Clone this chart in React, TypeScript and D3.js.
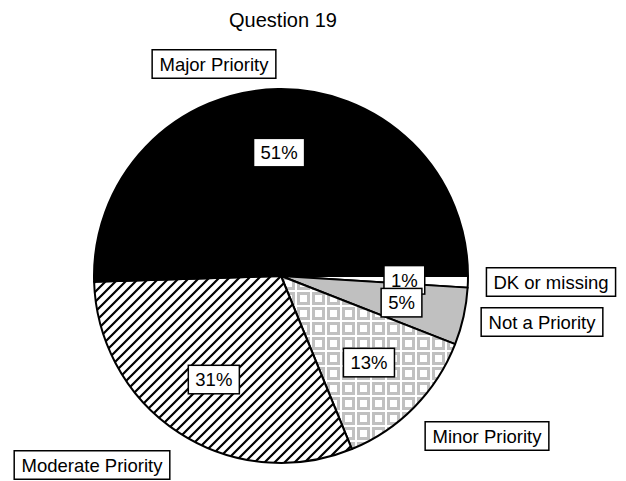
import React from "react";
import * as d3 from "d3";

// Survey responses for Question 19, in drawing order (clockwise from 3 o'clock)
const categories = ["DK or missing", "Not a Priority", "Minor Priority", "Moderate Priority", "Major Priority"];
const percents = [1, 5, 13, 31, 51];
const fills = ["#ffffff", "#c0c0c0", "url(#gridFill)", "url(#hatchFill)", "#000000"];

// Centre of each category caption box, in page pixels
const captionCenters: [number, number][] = [
  [551, 282],
  [542, 322],
  [487, 436],
  [92, 465],
  [214, 64],
];

const W = 626;
const H = 481;
const CX = 281;
const CY = 276;
const R = 187;
const FONT = "'Liberation Sans', Arial, Helvetica, sans-serif";
const FS = 18.5;
const PAD = 7;

function LabelBox({ x, y, text, fs = FS }: { x: number; y: number; text: string; fs?: number }) {
  const ref = React.useRef<SVGTextElement>(null);
  const [w, setW] = React.useState(text.length * fs * 0.56 + 2 * PAD);
  React.useLayoutEffect(() => {
    if (ref.current) setW(ref.current.getBBox().width + 2 * PAD);
  }, [text, fs]);
  const h = fs + 10;
  return (
    <g transform={`translate(${x},${y})`}>
      <rect x={-w / 2} y={-h / 2} width={w} height={h} fill="#fff" stroke="#000" strokeWidth={1.5} />
      <text ref={ref} x={0} y={0} dy="0.36em" textAnchor="middle" fontFamily={FONT} fontSize={fs} fill="#000">
        {text}
      </text>
    </g>
  );
}

export default function App() {
  const rows = categories.map((c, i) => ({ name: c, value: percents[i], fill: fills[i] }));
  const pie = d3
    .pie<{ name: string; value: number; fill: string }>()
    .sort(null)
    .value((d) => d.value)
    .startAngle(Math.PI / 2)
    .endAngle(Math.PI / 2 + 2 * Math.PI);
  const arcs = pie(rows);
  const arc = d3.arc<d3.PieArcDatum<any>>().innerRadius(0).outerRadius(R);
  const labelArc = d3.arc<d3.PieArcDatum<any>>().innerRadius(R * 0.66).outerRadius(R * 0.66);

  return (
    <svg width={W} height={H} style={{ display: "block", position: "absolute", left: 0, top: 0 }}>
      <defs>
        <pattern id="hatchFill" width={10} height={10} patternUnits="userSpaceOnUse">
          <rect width={10} height={10} fill="#fff" />
          <path d="M-2,2 L2,-2 M0,10 L10,0 M8,12 L12,8" stroke="#000" strokeWidth={2.2} />
        </pattern>
        <pattern id="gridFill" width={15} height={15} patternUnits="userSpaceOnUse">
          <rect width={15} height={15} fill="#fff" />
          <rect x={1} y={1} width={13} height={13} fill="#c0c0c0" />
          <rect x={4} y={4} width={7} height={7} fill="#fff" />
        </pattern>
      </defs>
      <rect width={W} height={H} fill="#fff" />
      <text x={283} y={27} textAnchor="middle" fontFamily={FONT} fontSize={20} fill="#000">
        Question 19
      </text>
      <g transform={`translate(${CX},${CY})`}>
        {arcs.map((a, i) => (
          <path key={i} d={arc(a) as string} fill={a.data.fill} stroke="#000" strokeWidth={2} strokeLinejoin="round" />
        ))}
        {arcs.map((a, i) => {
          const [x, y] = labelArc.centroid(a);
          return <LabelBox key={"p" + i} x={x} y={y} text={`${a.data.value}%`} />;
        })}
      </g>
      {arcs.map((a, i) => (
        <LabelBox key={"c" + i} x={captionCenters[i][0]} y={captionCenters[i][1]} text={a.data.name} />
      ))}
    </svg>
  );
}
